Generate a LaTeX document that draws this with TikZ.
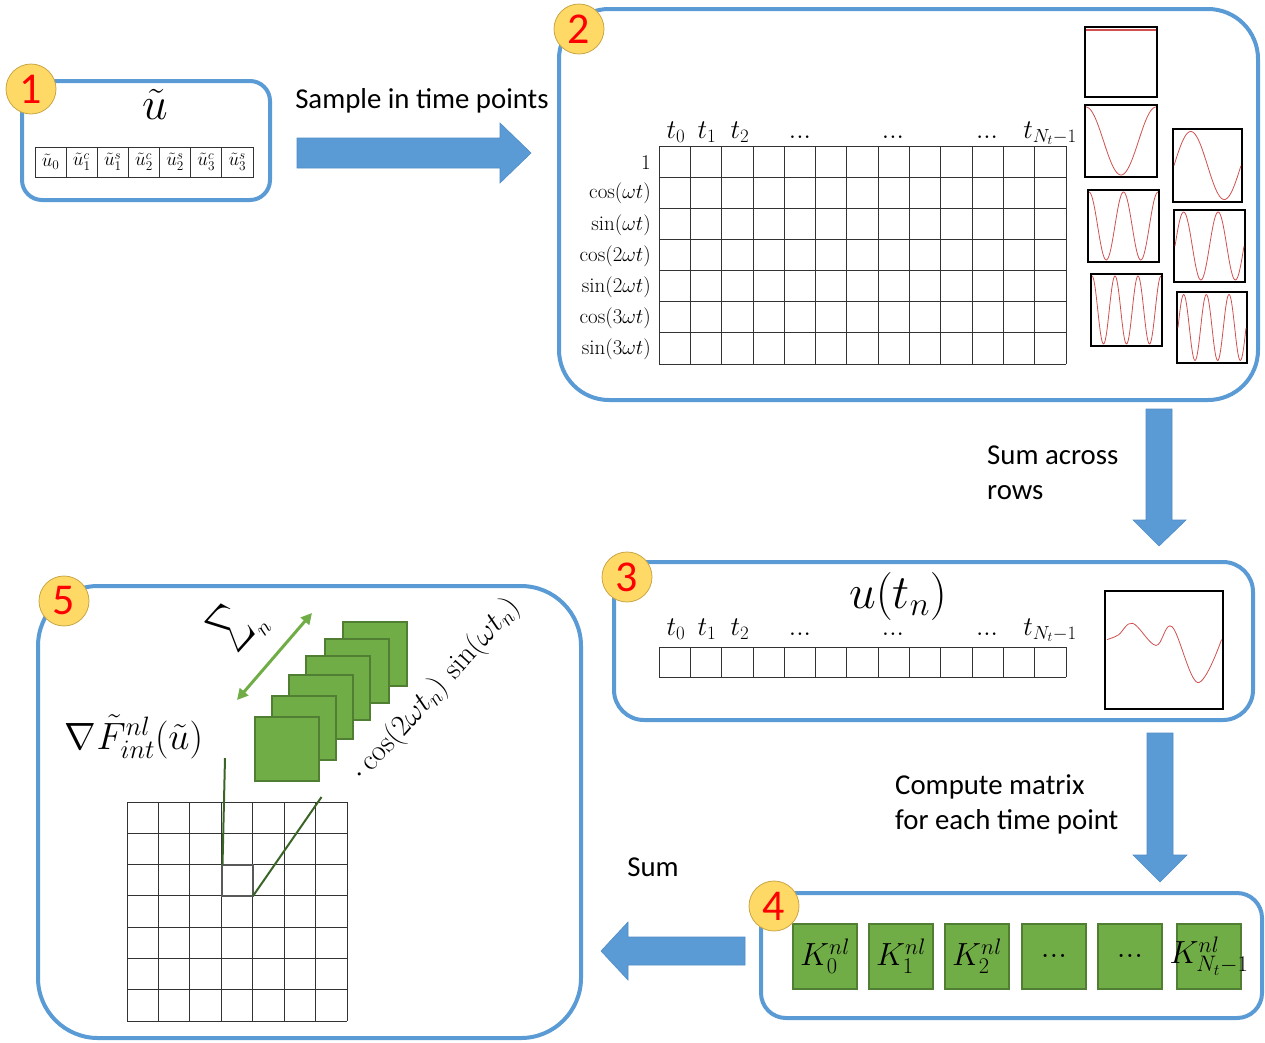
\RequirePackage{fix-cm}
\documentclass[tikz,border=0pt]{standalone}
\usepackage{graphicx}
\usepackage{fontspec}
\newfontfamily\calibri{Carlito}
\usetikzlibrary{arrows.meta}

\definecolor{boxblue}{HTML}{5B9BD5}
\definecolor{arrowedge}{HTML}{4F8CC6}
\definecolor{badgefill}{HTML}{FFD966}
\definecolor{badgeedge}{HTML}{C9A545}
\definecolor{kgreen}{HTML}{70AD47}
\definecolor{kedge}{HTML}{507E32}
\definecolor{stemgreen}{HTML}{3B6427}
\definecolor{wave}{HTML}{D05050}

% compact ellipsis used for skipped time points
\newcommand\tdots{{.}{.}{.}}

\begin{document}
\begin{tikzpicture}[x=1pt,y=-1pt,
  panel/.style={draw=boxblue, line width=4pt},
  badge/.style={circle, fill=badgefill, draw=badgeedge, line width=0.8pt,
    minimum size=50pt, inner sep=0pt, text=red,
    font=\calibri\fontsize{44}{44}\selectfont},
  blockarrow/.style={fill=boxblue, draw=arrowedge, line width=0.6pt},
  lbl/.style={font=\calibri\fontsize{28.8}{35}\selectfont, align=left, inner sep=0pt},
  gridline/.style={draw=black!80, line width=0.8pt},
  plotframe/.style={draw=black, line width=2pt},
  wavecurve/.style={draw=wave, line width=0.8pt},
  kbox/.style={fill=kgreen, draw=kedge, line width=2.5pt},
  cell/.style={font=\fontsize{19}{19}\selectfont, inner sep=0pt},
  tlab/.style={font=\fontsize{27}{27}\selectfont, anchor=base, inner sep=0pt},
  rowlab/.style={font=\fontsize{21}{21}\selectfont, anchor=east, inner sep=0pt},
  klab/.style={font=\fontsize{32}{32}\selectfont, inner sep=0pt}]
\useasboundingbox (0,0) rectangle (1265,1042);

% ---------- panel 1: coefficient vector ----------
\draw[panel, rounded corners=20pt] (22,81) rectangle (270,200);
\node[font=\fontsize{46}{46}\selectfont, inner sep=0pt] (utilde) at (155,104) {$\tilde u$};
\foreach \lab [count=\i from 0] in {\tilde u_0, \tilde u_1^c, \tilde u_1^s, \tilde u_2^c, \tilde u_2^s, \tilde u_3^c, \tilde u_3^s} {
  \draw[gridline] ({35+\i*31.14},147) rectangle ++(31.14,30);
  \node[cell] (c\i) at ({35+(\i+0.5)*31.14},162) {$\lab$};
}

% ---------- arrow 1 ----------
\draw[blockarrow] (297,138) -- (500,138) -- (500,123) -- (531,153) -- (500,183) -- (500,168) -- (297,168) -- cycle;
\node[lbl] (sample) at (422,101) {Sample in time points};

% ---------- panel 2: harmonic basis sampled in time ----------
\draw[panel, rounded corners=50pt] (559,9) rectangle (1258,400);
\foreach \i in {0,...,13} \draw[gridline] ({659+\i*407/13},146) -- ++(0,218);
\foreach \j in {0,...,7} \draw[gridline] (659,{146+\j*218/7}) -- ++(407,0);
\node[tlab] (ta0) at (676,138) {$t_0$};
\node[tlab] (ta1) at (707,138) {$t_1$};
\node[tlab] (ta2) at (740,138) {$t_2$};
\node[tlab] (tad1) at (800,138) {$\tdots$};
\node[tlab] (tad2) at (893,138) {$\tdots$};
\node[tlab] (tad3) at (987,138) {$\tdots$};
\node[tlab] (taN) at (1050,138) {$t_{N_t-1}$};
\foreach \lab [count=\j from 0] in {1, \cos(\omega t), \sin(\omega t), \cos(2\omega t), \sin(2\omega t), \cos(3\omega t), \sin(3\omega t)}
  \node[rowlab] (r\j) at (651,{146+(\j+0.5)*218/7+1}) {$\lab$};

% basis functions
\draw[plotframe] (1085,27) rectangle (1157,97);
\draw[wave, line width=1.4pt] (1086,30) -- (1156,30);
\draw[plotframe] (1085,105) rectangle (1157,177);
\draw[wavecurve] plot[domain=0:1,samples=60] ({1086+70*\x},{141-34*cos(360*\x)});
\draw[plotframe] (1173,129) rectangle (1242,202);
\draw[wavecurve] plot[domain=0:1,samples=60] ({1174+67*\x},{165.5-34*sin(360*\x)});
\draw[plotframe] (1088,190) rectangle (1159,262);
\draw[wavecurve] plot[domain=0:1,samples=80] ({1089+69*\x},{226-34*cos(720*\x)});
\draw[plotframe] (1174,210) rectangle (1245,282);
\draw[wavecurve] plot[domain=0:1,samples=80] ({1175+69*\x},{246-34*sin(720*\x)});
\draw[plotframe] (1091,274) rectangle (1162,346);
\draw[wavecurve] plot[domain=0:1,samples=100] ({1092+69*\x},{310-34*cos(1080*\x)});
\draw[plotframe] (1177,292) rectangle (1247,363);
\draw[wavecurve] plot[domain=0:1,samples=100] ({1178+68*\x},{327.5-33*sin(1080*\x)});

% ---------- arrow 2 ----------
\draw[blockarrow] (1146,409) -- (1172,409) -- (1172,520) -- (1186,520) -- (1159,546) -- (1133,520) -- (1146,520) -- cycle;
\node[lbl, anchor=west] (sumrows) at (987,473) {Sum across\\rows};

% ---------- panel 3: displacement in time ----------
\draw[panel, rounded corners=30pt] (614,562) rectangle (1253,720);
\node[font=\fontsize{48}{48}\selectfont, inner sep=0pt] (utn) at (898,596) {$u(t_n)$};
\foreach \i in {0,...,13} \draw[gridline] ({659+\i*407/13},647) -- ++(0,30);
\draw[gridline] (659,647) -- (1066,647) (659,677) -- (1066,677);
\node[tlab] (tb0) at (676,635) {$t_0$};
\node[tlab] (tb1) at (707,635) {$t_1$};
\node[tlab] (tb2) at (740,635) {$t_2$};
\node[tlab] (tbd1) at (800,635) {$\tdots$};
\node[tlab] (tbd2) at (893,635) {$\tdots$};
\node[tlab] (tbd3) at (987,635) {$\tdots$};
\node[tlab] (tbN) at (1050,635) {$t_{N_t-1}$};
\draw[draw=black, line width=2.5pt] (1105,591) rectangle (1223,709);
\draw[wavecurve] plot[smooth, tension=0.6] coordinates {(1107,639.6) (1118.4,634.9) (1132.7,623.3) (1155.9,645.4) (1172.1,626.8) (1197.6,682.5) (1221.5,639.6)};

% ---------- arrow 3 ----------
\draw[blockarrow] (1147,733) -- (1173,733) -- (1173,855) -- (1187,855) -- (1160,882) -- (1133,855) -- (1147,855) -- cycle;
\node[lbl, anchor=west] (compute) at (895,804) {Compute matrix\\for each time point};

% ---------- panel 4: stiffness per time point ----------
\draw[panel, rounded corners=25pt] (761,893) rectangle (1262,1018);
\foreach \xa/\lab [count=\k from 0] in {793/K_0^{nl}, 869/K_1^{nl}, 945/K_2^{nl}, 1022/\tdots, 1098/\tdots, 1177/K_{N_t-1}^{nl}} {
  \draw[kbox] (\xa,924) rectangle ++(64,65);
  \node[klab] (k\k) at ({\xa+32},956) {$\lab$};
}

% ---------- arrow 4 ----------
\draw[blockarrow] (745,937) -- (745,965) -- (628,965) -- (628,980) -- (601,951) -- (628,922) -- (628,937) -- cycle;
\node[lbl] (sumlbl) at (653,867) {Sum};

% ---------- panel 5: assembled gradient ----------
\draw[panel, rounded corners=60pt] (38,586) rectangle (581,1038);
\node[font=\fontsize{38}{38}\selectfont, inner sep=0pt] (gradF) at (134,737) {$\nabla\tilde F^{nl}_{int}(\tilde u)$};
\foreach \i in {0,...,7} {
  \draw[gridline] ({127+\i*220/7},802) -- ++(0,219);
  \draw[gridline] (127,{802+\i*219/7}) -- ++(220,0);
}
\draw[draw=black!65, line width=1.6pt] (222,865) rectangle (253,896);
\coordinate (cellTL) at (222.5,865);
\coordinate (cellBR) at (253,896);
\coordinate (stackTL) at (225,758);
\coordinate (stackBR) at (321.5,797);
\draw[stemgreen, line width=2pt] (stackTL) -- (cellTL);
\draw[stemgreen, line width=2pt] (stackBR) -- (cellBR);
\foreach \xs/\ys in {343/622, 325/639, 306/656, 289/675, 272/696, 255/717}
  \draw[kbox] (\xs,\ys) rectangle ++(64,64);
\coordinate (sumA) at (237,700);
\coordinate (sumB) at (312,613);
\draw[kgreen, line width=3pt, {Triangle[length=11pt,width=11pt]}-{Triangle[length=11pt,width=11pt]}] (sumA) -- (sumB);
\node[rotate=48, inner sep=0pt] (sigma) at (238,626)
  {\scalebox{2.9}[4.6]{$\sum$}\raisebox{-20pt}{\fontsize{22}{22}\selectfont$n$}};
\node[rotate=48, font=\fontsize{30}{30}\selectfont, inner sep=0pt] (trig) at (436,690)
  {$\cdot\cos(2\omega t_n)\,\sin(\omega t_n)$};

% ---------- step badges ----------
\node[badge] (b1) at (31,89) {1};
\node[badge] (b2) at (579,29) {2};
\node[badge] (b3) at (627,577) {3};
\node[badge] (b4) at (774,906) {4};
\node[badge] (b5) at (64,601) {5};
\end{tikzpicture}
\end{document}
